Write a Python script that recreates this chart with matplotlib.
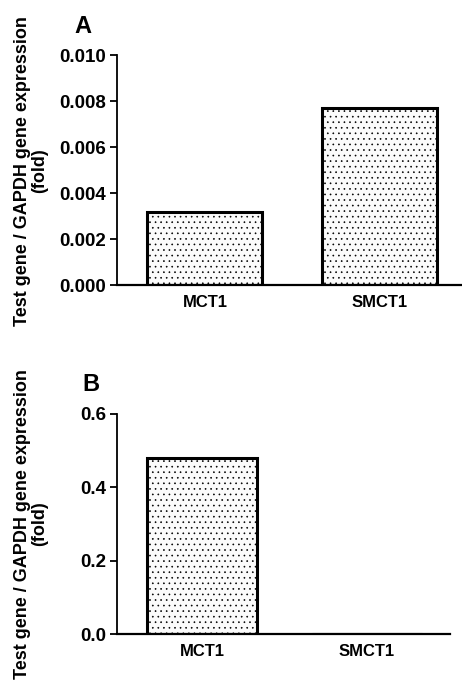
import matplotlib.pyplot as plt
import matplotlib as mpl

plt.rcParams['font.family'] = ['Liberation Sans', 'DejaVu Sans']
plt.rcParams['font.weight'] = 'bold'
plt.rcParams['hatch.color'] = '#999999'
plt.rcParams['hatch.linewidth'] = 0.45

genes = ['MCT1', 'SMCT1']
expr_a = [0.0032, 0.0077]
expr_b = [0.48, 0.0]
ticks_a = [0.000, 0.002, 0.004, 0.006, 0.008, 0.010]
ticks_b = [0.0, 0.2, 0.4, 0.6]
ylabel = 'Test gene / GAPDH gene expression\n(fold)'

fig = plt.figure(figsize=(4.62, 6.82), dpi=100)


def panel(rect, values, ticks, fmt, xlim, width, letter, ylab_y, letter_xy):
    ax = fig.add_axes(rect)
    x = range(len(genes))
    ax.bar(x, values, width=width, color='#fbfbfb', edgecolor='black',
           linewidth=2.2, hatch='...', zorder=2)
    ax.set_xlim(*xlim)
    ax.set_ylim(ticks[0], ticks[-1])
    ax.set_yticks(ticks)
    ax.set_yticklabels([fmt.format(t) for t in ticks], fontsize=13.5, fontweight='bold')
    ax.set_xticks(list(x))
    ax.set_xticklabels(genes, fontsize=12, fontweight='bold')
    ax.tick_params(axis='x', length=0, pad=7)
    ax.tick_params(axis='y', length=5, width=1.3, direction='out', pad=3)
    for s in ['top', 'right']:
        ax.spines[s].set_visible(False)
    ax.spines['left'].set_linewidth(1.3)
    ax.spines['bottom'].set_linewidth(1.6)
    fig.text(0.067, ylab_y, ylabel, rotation=90, ha='center', va='center',
             fontsize=13, fontweight='bold', linespacing=1.0)
    fig.text(letter_xy[0] / 462, 1 - letter_xy[1] / 682, letter, fontsize=17,
             fontweight='bold', ha='left', va='bottom')
    return ax


panel([0.253, 0.582, 0.747, 0.337], expr_a, ticks_a, '{:.3f}',
      (-0.503, 1.469), 0.657, 'A', 1 - 171 / 682, (74, 38))
panel([0.253, 0.070, 0.721, 0.323], expr_b, ticks_b, '{:.1f}',
      (-0.515, 1.503), 0.667, 'B', 1 - 524 / 682, (82, 396))

fig.savefig('out.png', dpi=100)
